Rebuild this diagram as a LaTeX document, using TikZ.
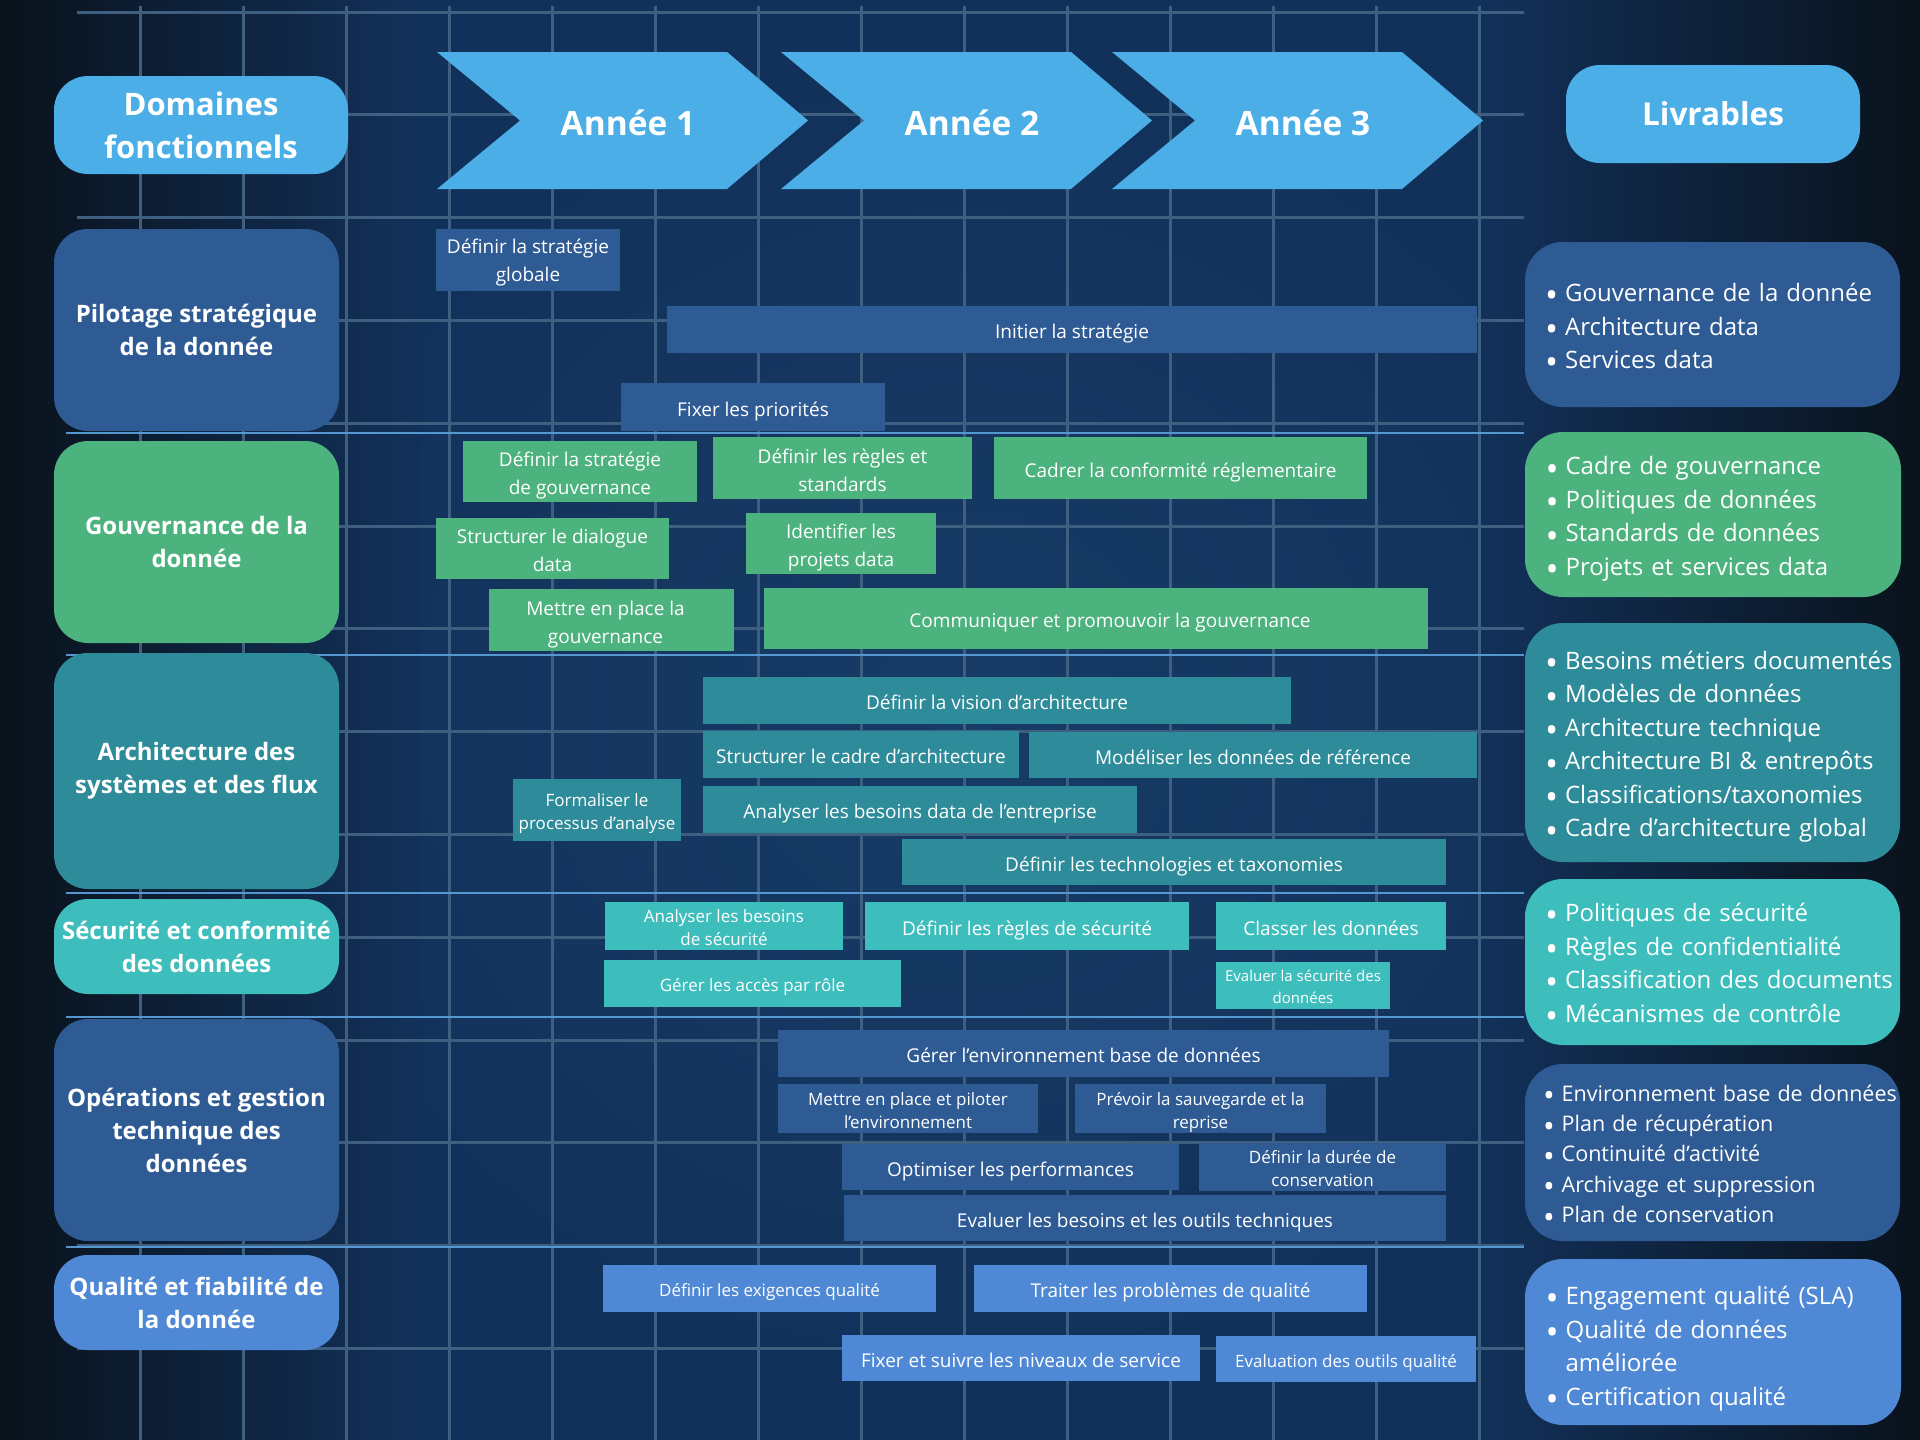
\documentclass[tikz,border=0pt]{standalone}
\usepackage{fontspec}
\setmainfont{Open Sans}

\definecolor{ciel}{HTML}{4BAEE6}
\definecolor{pilote}{HTML}{2F5B95}
\definecolor{gouv}{HTML}{4DB37E}
\definecolor{archi}{HTML}{2E8B99}
\definecolor{secu}{HTML}{3EBDBD}
\definecolor{qualite}{HTML}{4F89D5}
\definecolor{fondclair}{HTML}{173C66}
\definecolor{fondmilieu}{HTML}{12315A}
\definecolor{fondsombre}{HTML}{0A121C}
\definecolor{grillecol}{HTML}{3E5F80}
\definecolor{trait}{HTML}{5597D0}

% boite : nom, x1, y1, x2, y2, options, texte
\newcommand{\calea}{}
\newcommand{\caleb}{}
\newcommand{\boite}[7]{\node[#6, minimum width={(#4-#2)*1pt}, minimum height={(#5-#3)*1pt}] (#1) at ({(#2+#4)/2},{(#3+#5)/2}) {\calea#7\caleb};}
\newcommand{\puce}[1]{\mbox{\raisebox{-0.26em}{\scalebox{1.45}{\textbullet}}\hspace{7pt}#1}}
\newcommand{\vide}{\mbox{\phantom{\scalebox{1.45}{\textbullet}}\hspace{7pt}}}

\begin{document}
\begin{tikzpicture}[x=1pt,y=-1pt]
  \tikzset{
    cale/.style 2 args={/utils/exec={\def\calea{\rule{0pt}{#1em}}\def\caleb{\rule[-#2em]{0pt}{0pt}}}},
    domaine/.style={fill=#1, rounded corners=34pt, text=white, align=center, inner sep=0pt, font=\bfseries\fontsize{24}{33}\selectfont},
    tache/.style={fill=#1, text=white, align=center, inner sep=0pt, cale={1.25}{0.27}, font=\fontsize{19}{28}\selectfont},
    petit/.style={font=\fontsize{17}{23}\selectfont},
    mini/.style={font=\fontsize{15}{22}\selectfont},
    livrable/.style={fill=#1, rounded corners=38pt, text=white, align=left, text width=335pt, inner xsep=20pt, inner ysep=0pt, cale={1.15}{0.27}, font=\fontsize{24}{33.5}\selectfont},
    annee/.style={text=white, font=\bfseries\fontsize{33.5}{40}\selectfont},
    grille/.style={draw=grillecol, line width=3pt}
  }
  \useasboundingbox (0,0) rectangle (1920,1440);
  % fond
  \fill[fondmilieu] (0,0) rectangle (1920,1440);
  \shade[inner color=fondclair, outer color=fondmilieu] (260,60) rectangle (1660,1380);
  \shade[left color=fondsombre, right color=fondmilieu] (0,0) rectangle (420,1440);
  \shade[left color=fondmilieu, right color=fondsombre] (1480,0) rectangle (1920,1440);
  % grille
  \foreach \i in {0,...,13} {
    \draw[grille] ({140+103*\i},6) -- ({140+103*\i},1440);
    \draw[grille] (77,{12+102.8*\i}) -- (1524,{12+102.8*\i});
  }
  \foreach \y in {433,655,893,1017,1247}
    \draw[trait, line width=2pt] (66,\y) -- (1524,\y);

  % en-tetes
  \boite{domaines}{54}{76}{348}{174}{domaine=ciel, font=\bfseries\fontsize{31}{43}\selectfont}{Domaines\\fonctionnels}
  \boite{livrables}{1566}{65}{1860}{163}{domaine=ciel, font=\bfseries\fontsize{31.5}{38}\selectfont}{Livrables}
  \foreach \g/\n in {437/1,781/2,1112/3} {
    \fill[ciel] (\g,52) -- ++(290,0) -- ++(81,68.5) -- ++(-81,68.5) -- ++(-290,0) -- ++(83,-68.5) -- cycle;
    \node[annee] (an\n) at (\g+191,123) {Année \n};
  }

  % pilotage
  \boite{dom1}{54}{229}{339}{431}{domaine=pilote}{Pilotage stratégique\\de la donnée}
  \boite{t11}{436}{229}{620}{291}{tache=pilote, cale={1.1}{0.27}}{Définir la stratégie\\globale}
  \boite{t12}{667}{306}{1477}{353}{tache=pilote}{Initier la stratégie}
  \boite{t13}{621}{383}{885}{431}{tache=pilote}{Fixer les priorités}
  \boite{liv1}{1525}{242}{1900}{407}{livrable=pilote}{\puce{Gouvernance de la donnée}\\\puce{Architecture data}\\\puce{Services data}}

  % gouvernance
  \boite{dom2}{54}{441}{339}{643}{domaine=gouv}{Gouvernance de la\\donnée}
  \boite{t21}{463}{441}{697}{502}{tache=gouv}{Définir la stratégie\\de gouvernance}
  \boite{t22}{713}{437}{972}{499}{tache=gouv}{Définir les règles et\\standards}
  \boite{t23}{994}{437}{1367}{499}{tache=gouv}{Cadrer la conformité réglementaire}
  \boite{t24}{436}{518}{669}{579}{tache=gouv}{Structurer le dialogue\\data}
  \boite{t25}{746}{513}{936}{574}{tache=gouv}{Identifier les\\projets data}
  \boite{t26}{489}{589}{734}{651}{tache=gouv}{\hspace*{-12pt}Mettre en place la\\\hspace*{-12pt}gouvernance}
  \boite{t27}{764}{588}{1428}{649}{tache=gouv}{\hspace*{28pt}Communiquer et promouvoir la gouvernance}
  \boite{liv2}{1525}{432}{1901}{597}{livrable=gouv}{\puce{Cadre de gouvernance}\\\puce{Politiques de données}\\\puce{Standards de données}\\\puce{Projets et services data}}

  % architecture
  \boite{dom3}{54}{653}{339}{889}{domaine=archi}{Architecture des\\systèmes et des flux}
  \boite{t31}{703}{677}{1291}{724}{tache=archi}{Définir la vision d’architecture}
  \boite{t32}{703}{731}{1019}{778}{tache=archi}{Structurer le cadre d’architecture}
  \boite{t33}{1029}{732}{1477}{778}{tache=archi}{Modéliser les données de référence}
  \boite{t34}{513}{779}{681}{841}{tache=archi, petit}{Formaliser le\\processus d’analyse}
  \boite{t35}{703}{786}{1137}{833}{tache=archi}{Analyser les besoins data de l’entreprise}
  \boite{t36}{902}{839}{1446}{885}{tache=archi}{Définir les technologies et taxonomies}
  \boite{liv3}{1525}{623}{1900}{862}{livrable=archi}{\puce{Besoins métiers documentés}\\\puce{Modèles de données}\\\puce{Architecture technique}\\\puce{Architecture BI \& entrepôts}\\\puce{Classifications/taxonomies}\\\puce{Cadre d’architecture global}}

  % securite
  \boite{dom4}{54}{899}{339}{994}{domaine=secu}{Sécurité et conformité\\des données}
  \boite{t41}{605}{902}{843}{950}{tache=secu, petit}{Analyser les besoins\\de sécurité}
  \boite{t42}{865}{902}{1189}{950}{tache=secu}{Définir les règles de sécurité}
  \boite{t43}{1216}{902}{1446}{950}{tache=secu}{Classer les données}
  \boite{t44}{604}{960}{901}{1007}{tache=secu, petit}{Gérer les accès par rôle}
  \boite{t45}{1216}{962}{1390}{1009}{tache=secu, mini}{Evaluer la sécurité des\\données}
  \boite{liv4}{1525}{879}{1900}{1045}{livrable=secu, cale={1.1}{0.27}}{\puce{Politiques de sécurité}\\\puce{Règles de confidentialité}\\\puce{Classification des documents}\\\puce{Mécanismes de contrôle}}

  % operations
  \boite{dom5}{54}{1019}{339}{1241}{domaine=pilote}{Opérations et gestion\\technique des\\données}
  \boite{t51}{778}{1030}{1389}{1077}{tache=pilote}{Gérer l’environnement base de données}
  \boite{t52}{778}{1085}{1038}{1132}{tache=pilote, petit}{Mettre en place et piloter\\l’environnement}
  \boite{t53}{1075}{1085}{1326}{1132}{tache=pilote, petit}{Prévoir la sauvegarde et la\\reprise}
  \boite{t54}{842}{1144}{1179}{1190}{tache=pilote}{Optimiser les performances}
  \boite{t55}{1199}{1144}{1446}{1190}{tache=pilote, petit}{Définir la durée de\\conservation}
  \boite{t56}{844}{1195}{1446}{1241}{tache=pilote}{Evaluer les besoins et les outils techniques}
  \boite{liv5}{1525}{1064}{1900}{1241}{livrable=pilote, inner xsep=18pt, text width=339pt, font=\fontsize{21.5}{30.3}\selectfont}{\puce{Environnement base de données}\\\puce{Plan de récupération}\\\puce{Continuité d’activité}\\\puce{Archivage et suppression}\\\puce{Plan de conservation}}

  % qualite
  \boite{dom6}{54}{1255}{339}{1350}{domaine=qualite}{Qualité et fiabilité de\\la donnée}
  \boite{t61}{603}{1265}{936}{1312}{tache=qualite, petit}{Définir les exigences qualité}
  \boite{t62}{974}{1265}{1367}{1312}{tache=qualite}{Traiter les problèmes de qualité}
  \boite{t63}{842}{1335}{1200}{1381}{tache=qualite}{Fixer et suivre les niveaux de service}
  \boite{t64}{1216}{1336}{1476}{1382}{tache=qualite, petit}{Evaluation des outils qualité}
  \boite{liv6}{1525}{1259}{1901}{1425}{livrable=qualite, cale={1.35}{0.27}}{\puce{Engagement qualité (SLA)}\\\puce{Qualité de données}\\\vide améliorée\\\puce{Certification qualité}}
\end{tikzpicture}
\end{document}
